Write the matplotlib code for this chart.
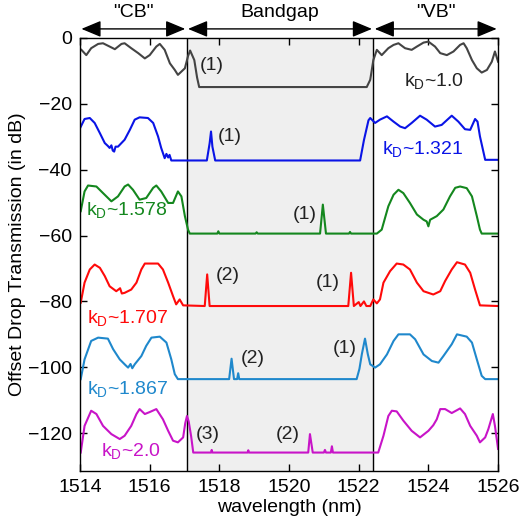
import matplotlib
matplotlib.use('Agg')
import matplotlib.pyplot as plt
import matplotlib.transforms as mtransforms

plt.rcParams['font.family'] = ['Liberation Sans', 'DejaVu Sans']
plt.rcParams['mathtext.default'] = 'regular'
plt.rcParams['font.size'] = 14

# k_D ~ 1.0 (gray)
gray_wl = [1514.04, 1514.18, 1514.32, 1514.52, 1514.66, 1514.85, 1515.00, 1515.19, 1515.28,
           1515.47, 1515.67, 1515.86, 1516.00, 1516.19, 1516.29, 1516.43, 1516.58, 1516.72,
           1516.81, 1516.91, 1517.01, 1517.10, 1517.16, 1517.28, 1517.36, 1517.42, 1518.50,
           1520.00, 1522.23, 1522.33, 1522.42, 1522.52, 1522.66, 1522.85, 1523.00, 1523.14,
           1523.33, 1523.52, 1523.67, 1523.86, 1524.00, 1524.19, 1524.34, 1524.53, 1524.72,
           1524.91, 1525.01, 1525.10, 1525.25, 1525.39, 1525.53, 1525.68, 1525.82, 1525.91,
           1526.00]
gray_db = [-3.6, -5.2, -3.1, -1.8, -1.6, -2.6, -3.4, -1.8, -1.6,
           -3.1, -4.6, -6.2, -5.2, -2.6, -1.8, -3.6, -7.7, -9.7,
           -11.2, -10.2, -9.2, -5.5, -3.8, -6.7, -12.0, -14.9, -14.9,
           -14.9, -14.9, -12.7, -6.7, -3.6, -5.2, -3.1, -2.1, -1.6,
           -3.1, -3.6, -2.6, -1.4, -1.1, -2.6, -4.6, -5.2, -4.1,
           -2.1, -1.6, -3.1, -6.7, -9.2, -10.5, -9.7, -7.2, -4.1,
           -7.2]

# k_D ~ 1.321 (blue)
blue_wl = [1514.00, 1514.13, 1514.28, 1514.42, 1514.57, 1514.71, 1514.80, 1514.85, 1514.90,
           1514.94, 1514.98, 1515.02, 1515.09, 1515.28, 1515.43, 1515.57, 1515.71, 1515.95,
           1516.10, 1516.24, 1516.33, 1516.43, 1516.48, 1516.53, 1516.57, 1516.62, 1517.64,
           1517.72, 1517.76, 1517.80, 1517.88, 1522.04, 1522.15, 1522.28, 1522.33, 1522.47,
           1522.61, 1522.81, 1523.00, 1523.19, 1523.33, 1523.52, 1523.76, 1523.95, 1524.19,
           1524.38, 1524.67, 1524.86, 1525.05, 1525.20, 1525.34, 1525.41, 1525.48, 1525.63,
           1526.00]
blue_db = [-27.4, -24.6, -24.3, -25.8, -28.9, -31.9, -32.8, -33.4, -32.6,
           -34.2, -34.5, -33.0, -33.0, -30.9, -27.9, -24.8, -24.1, -24.3,
           -25.8, -29.9, -33.4, -36.5, -35.2, -36.3, -35.5, -37.2, -37.2,
           -32.0, -28.4, -33.0, -37.2, -37.2, -31.0, -25.0, -24.3, -25.8,
           -24.8, -23.8, -25.4, -26.9, -27.4, -25.8, -23.6, -24.8, -26.9,
           -26.4, -23.6, -25.4, -27.7, -27.9, -24.6, -25.4, -29.9, -37.0,
           -37.0]

# k_D ~ 1.578 (green)
green_wl = [1514.02, 1514.13, 1514.23, 1514.47, 1514.66, 1514.90, 1515.09, 1515.28, 1515.38,
            1515.52, 1515.71, 1515.90, 1516.10, 1516.19, 1516.33, 1516.53, 1516.67, 1516.81,
            1516.91, 1517.01, 1517.10, 1517.15, 1517.94, 1517.97, 1518.00, 1519.04, 1519.07,
            1519.10, 1520.89, 1520.97, 1521.06, 1521.72, 1521.75, 1521.78, 1522.52, 1522.66,
            1522.85, 1523.00, 1523.14, 1523.28, 1523.47, 1523.67, 1523.86, 1523.95, 1524.00,
            1524.05, 1524.24, 1524.43, 1524.62, 1524.77, 1524.91, 1525.10, 1525.25, 1525.39,
            1525.48, 1525.53, 1526.00]
green_db = [-52.6, -46.6, -44.8, -45.1, -47.1, -49.6, -48.1, -45.1, -44.5,
            -46.1, -49.1, -48.6, -45.5, -44.8, -46.6, -50.1, -50.1, -46.6,
            -48.1, -54.1, -58.2, -59.4, -59.4, -58.7, -59.4, -59.4, -59.0,
            -59.4, -59.4, -50.6, -59.4, -59.4, -58.9, -59.4, -59.4, -58.2,
            -51.1, -47.6, -46.1, -47.1, -50.1, -53.6, -55.2, -55.7, -57.2,
            -55.2, -54.1, -52.1, -48.1, -45.5, -45.1, -45.6, -48.1, -54.1,
            -58.2, -59.4, -59.4]

# k_D ~ 1.707 (red)
red_wl = [1514.02, 1514.13, 1514.28, 1514.42, 1514.57, 1514.71, 1514.85, 1515.04, 1515.15,
          1515.20, 1515.28, 1515.47, 1515.62, 1515.76, 1515.86, 1516.24, 1516.38, 1516.53,
          1516.67, 1516.76, 1516.86, 1516.96, 1517.58, 1517.65, 1517.72, 1521.70, 1521.78,
          1521.86, 1522.00, 1522.05, 1522.15, 1522.22, 1522.33, 1522.42, 1522.52, 1522.61,
          1522.71, 1522.90, 1523.09, 1523.28, 1523.47, 1523.67, 1523.86, 1524.14, 1524.34,
          1524.48, 1524.67, 1524.82, 1525.05, 1525.20, 1525.34, 1525.48, 1526.00]
red_db = [-80.4, -74.3, -70.3, -68.8, -69.8, -72.3, -75.4, -76.9, -76.0,
          -77.6, -77.4, -76.4, -74.3, -70.3, -68.5, -68.5, -70.3, -74.3,
          -78.4, -80.9, -79.4, -81.2, -81.4, -71.8, -81.4, -81.4, -71.3,
          -81.4, -80.2, -81.4, -80.0, -81.4, -81.4, -79.4, -80.6, -79.4,
          -74.3, -70.8, -68.5, -68.8, -70.3, -74.3, -76.9, -77.9, -76.9,
          -73.8, -70.3, -68.1, -68.8, -71.3, -76.4, -81.2, -81.4]

# k_D ~ 1.867 (light blue)
lblue_wl = [1514.02, 1514.13, 1514.32, 1514.52, 1514.80, 1514.95, 1515.14, 1515.30, 1515.38,
            1515.45, 1515.50, 1515.57, 1515.76, 1515.90, 1516.05, 1516.29, 1516.48, 1516.62,
            1516.72, 1516.81, 1518.28, 1518.35, 1518.42, 1518.51, 1518.54, 1518.57, 1521.94,
            1522.02, 1522.09, 1522.18, 1522.26, 1522.33, 1522.47, 1522.61, 1522.81, 1523.00,
            1523.14, 1523.47, 1523.62, 1523.86, 1524.10, 1524.29, 1524.43, 1524.67, 1524.82,
            1525.10, 1525.25, 1525.39, 1525.53, 1525.63, 1526.00]
lblue_db = [-103.6, -97.6, -92.0, -91.0, -91.3, -94.5, -97.6, -99.3, -100.1,
            -99.0, -100.3, -99.1, -96.6, -93.5, -91.0, -90.7, -92.5, -97.6,
            -102.1, -103.6, -103.6, -97.4, -103.6, -103.6, -101.8, -103.6, -103.6,
            -100.5, -96.0, -91.3, -96.0, -99.1, -100.1, -99.1, -96.1, -92.0,
            -90.0, -90.0, -91.5, -96.1, -98.1, -98.6, -96.6, -93.0, -90.0,
            -90.7, -92.5, -97.6, -102.6, -103.6, -103.6]

# k_D ~ 2.0 (magenta)
mag_wl = [1514.02, 1514.13, 1514.32, 1514.47, 1514.66, 1514.90, 1515.14, 1515.28, 1515.47,
          1515.62, 1515.71, 1515.86, 1516.00, 1516.19, 1516.38, 1516.53, 1516.67, 1516.81,
          1516.96, 1517.02, 1517.07, 1517.12, 1517.19, 1517.25, 1517.76, 1517.78, 1517.80,
          1518.81, 1518.83, 1518.85, 1520.55, 1520.60, 1520.68, 1521.00, 1521.03, 1521.06,
          1521.20, 1521.23, 1521.26, 1522.56, 1522.71, 1522.85, 1522.95, 1523.09, 1523.28,
          1523.52, 1523.76, 1524.00, 1524.14, 1524.24, 1524.34, 1524.48, 1524.67, 1524.91,
          1525.05, 1525.20, 1525.39, 1525.48, 1525.63, 1525.72, 1525.85, 1525.91, 1526.00]
mag_db = [-125.9, -117.8, -113.2, -114.2, -117.8, -120.3, -121.8, -120.8, -117.8,
          -114.2, -112.7, -114.2, -113.6, -112.7, -115.8, -119.3, -122.3, -122.8,
          -121.3, -117.0, -114.8, -116.5, -121.0, -125.9, -125.9, -125.1, -125.9,
          -125.9, -125.2, -125.9, -125.9, -120.3, -125.9, -125.9, -125.1, -125.9,
          -125.9, -124.0, -125.9, -125.9, -120.8, -114.8, -113.2, -113.4, -116.2,
          -119.3, -121.3, -119.3, -117.6, -115.8, -112.7, -112.7, -113.9, -112.5,
          -114.2, -117.8, -120.8, -122.8, -121.3, -118.8, -114.2, -117.8, -124.8]

traces = [(gray_wl, gray_db, '#444444'),
          (blue_wl, blue_db, '#0a14e6'),
          (green_wl, green_db, '#14871e'),
          (red_wl, red_db, '#ff0a0a'),
          (lblue_wl, lblue_db, '#1f88cc'),
          (mag_wl, mag_db, '#c814c8')]

band_edges = [1517.06, 1522.42]

fig = plt.figure(figsize=(5.21, 5.19), dpi=100)
ax = fig.add_axes([0.1536, 0.0925, 0.8024, 0.8343])

ax.axvspan(band_edges[0], band_edges[1], color='#efefef', zorder=0)
for e in band_edges:
    ax.axvline(e, color='black', lw=1.0, zorder=1)

for wl, db, c in traces:
    ax.plot(wl, db, color=c, lw=1.5, zorder=2)

# peak labels
ax.text(1517.79, -8.5, '(1)', ha='center', va='center', color='#222222')
ax.text(1518.31, -30.0, '(1)', ha='center', va='center', color='#222222')
ax.text(1520.46, -53.6, '(1)', ha='center', va='center', color='#222222')
ax.text(1518.25, -72.0, '(2)', ha='center', va='center', color='#222222')
ax.text(1521.12, -74.2, '(1)', ha='center', va='center', color='#222222')
ax.text(1518.97, -97.3, '(2)', ha='center', va='center', color='#222222')
ax.text(1521.61, -94.2, '(1)', ha='center', va='center', color='#222222')
ax.text(1517.67, -120.3, '(3)', ha='center', va='center', color='#222222')
ax.text(1519.97, -120.3, '(2)', ha='center', va='center', color='#222222')

# k_D labels
ax.text(1524.16, -13.2, 'k$_{D}$~1.0', ha='center', va='center', color='#222222')
ax.text(1523.85, -33.8, 'k$_{D}$~1.321', ha='center', va='center', color='#0a14e6')
ax.text(1515.35, -52.3, 'k$_{D}$~1.578', ha='center', va='center', color='#14871e')
ax.text(1515.38, -85.0, 'k$_{D}$~1.707', ha='center', va='center', color='#ff0a0a')
ax.text(1515.38, -106.6, 'k$_{D}$~1.867', ha='center', va='center', color='#1f88cc')
ax.text(1515.46, -125.3, 'k$_{D}$~2.0', ha='center', va='center', color='#c814c8')

# region arrows above the axes
trans = mtransforms.blended_transform_factory(ax.transData, ax.transAxes)
regions = [('"CB"', 1514.0, band_edges[0]),
           ('Bandgap', band_edges[0], band_edges[1]),
           ('"VB"', band_edges[1], 1526.0)]
for name, x0, x1 in regions:
    ax.annotate('', xy=(x0, 1.021), xytext=(x1, 1.021), xycoords=trans, textcoords=trans,
                arrowprops=dict(arrowstyle='<|-|>,head_length=0.6,head_width=0.25',
                                color='black', lw=1.0, shrinkA=1, shrinkB=1,
                                mutation_scale=20),
                annotation_clip=False)
    ax.text((x0 + x1) / 2, 1.058, name, transform=trans, ha='center', va='center')

ax.set_xlim(1514, 1526)
ax.set_ylim(-131.5, 0)
ax.set_xticks([1514, 1516, 1518, 1520, 1522, 1524, 1526])
ax.set_yticks([0, -20, -40, -60, -80, -100, -120])
ax.tick_params(direction='in', top=True, right=True, length=5, width=1, pad=6)
for s in ax.spines.values():
    s.set_linewidth(1.0)
ax.set_xlabel('wavelength (nm)', labelpad=2)
ax.set_ylabel('Offset Drop Transmission (in dB)', labelpad=1)

fig.savefig('out.png', dpi=100)
